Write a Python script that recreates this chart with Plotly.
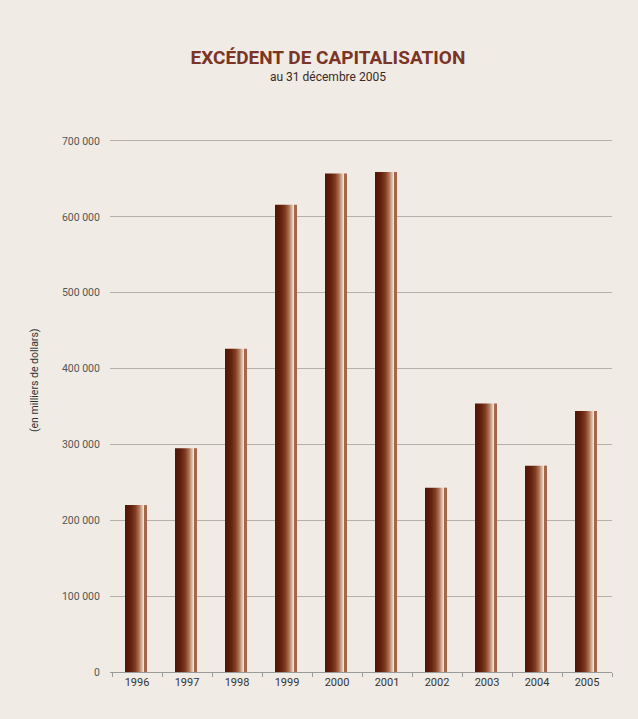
import plotly.graph_objects as go

years = [1996, 1997, 1998, 1999, 2000, 2001, 2002, 2003, 2004, 2005]
values = [220000, 295000, 426000, 616000, 657000, 659000, 243000, 354000, 272000, 344000]
ytick_vals = [0, 100000, 200000, 300000, 400000, 500000, 600000, 700000]
ytick_text = ["0", "100 000", "200 000", "300 000", "400 000", "500 000", "600 000", "700 000"]

title = "EXCÉDENT DE CAPITALISATION"
subtitle = "au 31 décembre 2005"
ytitle = "(en milliers de dollars)"

BG = "#f0ebe4"
FONT = "Roboto, 'Liberation Sans', sans-serif"


def hex2rgb(h):
    h = h.lstrip("#")
    return tuple(int(h[i:i + 2], 16) for i in (0, 2, 4))


def mix(a, b, t):
    ra, rb = hex2rgb(a), hex2rgb(b)
    return "#%02x%02x%02x" % tuple(round(ra[i] + (rb[i] - ra[i]) * t) for i in range(3))


# colour stops for the shaded bar body (left dark -> right light)
stops = ["#531606", "#5a1b09", "#6a2712", "#854126", "#ad7355", "#e2c6b5"]
n_slices = 18
slice_w = 0.02
start = -0.24

grad_colors = []
for i in range(n_slices):
    t = i / (n_slices - 1) * (len(stops) - 1)
    k = min(int(t), len(stops) - 2)
    grad_colors.append(mix(stops[k], stops[k + 1], t - k))

fig = go.Figure()
for i, c in enumerate(grad_colors):
    fig.add_trace(go.Bar(x=years, y=values, width=slice_w, offset=start + i * slice_w,
                         marker=dict(color=c, line=dict(width=0)), hoverinfo="skip",
                         showlegend=False))
body_end = start + n_slices * slice_w
# thin highlight gap
fig.add_trace(go.Bar(x=years, y=values, width=0.02, offset=body_end,
                     marker=dict(color="#efe2d8", line=dict(width=0)), hoverinfo="skip",
                     showlegend=False))
# thin side stripe
fig.add_trace(go.Bar(x=years, y=values, width=0.06, offset=body_end + 0.02,
                     marker=dict(color="#a3674b", line=dict(width=0)), showlegend=False))

fig.add_annotation(text=subtitle, xref="paper", yref="paper", x=0.434, y=1.1163,
                   xanchor="center", yanchor="middle", showarrow=False,
                   font=dict(family=FONT, size=12, color="#3a2a25"))
fig.add_annotation(text=ytitle, xref="paper", yref="paper", x=-0.149, y=0.548,
                   xanchor="center", yanchor="middle", showarrow=False, textangle=-90,
                   font=dict(family=FONT, size=10.5, color="#333"))

fig.update_layout(
    barmode="overlay",
    width=638, height=719,
    paper_bgcolor=BG, plot_bgcolor=BG,
    margin=dict(l=110, r=26, t=139, b=47),
    font=dict(family=FONT, color="#444"),
    title=dict(
        text=f"<b>{title}</b>",
        x=0.514, xanchor="center", xref="container",
        y=0.9207, yanchor="middle", yref="container",
        font=dict(family=FONT, size=19, color="#7a3526"),
    ),
    xaxis=dict(
        range=[1995.46, 2005.5],
        tickmode="array", tickvals=years, ticktext=[str(y) for y in years],
        ticks="", showgrid=False, zeroline=False,
        showline=True, linecolor="#9a9a9a", linewidth=1,
        tickfont=dict(size=11, color="#333"),
        minor=dict(ticks="outside", tick0=1995.5, dtick=1, ticklen=4,
                   tickcolor="#9a9a9a", showgrid=False),
    ),
    yaxis=dict(
        range=[0, 702600],
        tickmode="array", tickvals=ytick_vals, ticktext=ytick_text,
        showgrid=True, gridcolor="#b5b0aa", gridwidth=1,
        zeroline=False, showline=False,
        ticks="outside", ticklen=7, tickcolor=BG,
        tickfont=dict(size=10.5, color="#555"),
    ),
)

fig.write_html(
    "out.html",
    config={"displayModeBar": False},
    post_script="document.body.style.margin='0';document.body.style.background='%s';" % BG,
)
